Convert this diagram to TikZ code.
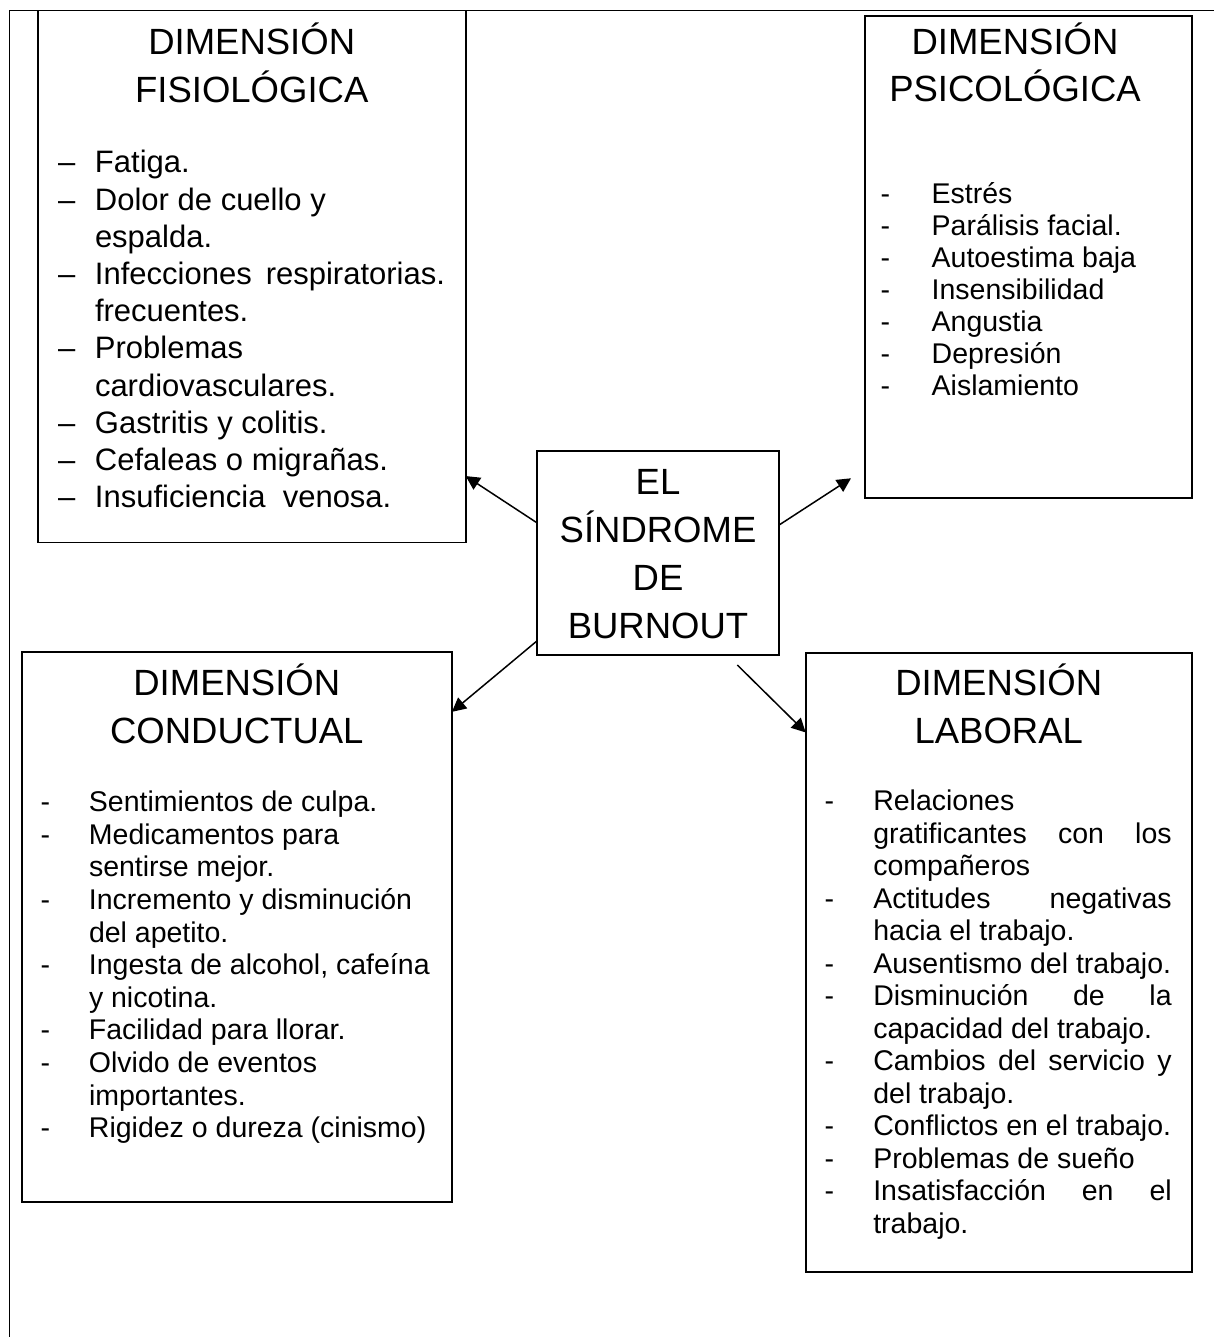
\documentclass[tikz,border=0pt]{standalone}
\usepackage{fontspec}
\setmainfont{Liberation Sans}
\usetikzlibrary{arrows.meta}
\newcommand\blines[2]{\vtop{\baselineskip=#1\relax\lineskiplimit=-\maxdimen\lineskip=0pt\relax #2}}
\newlength\indw
\newcommand\dashsym{-}
\newcommand\bitem[1]{\hbox{\hbox to\indw{\dashsym\hfil}#1}}
\newcommand\bcont[1]{\hbox{\hskip\indw #1}}
\newcommand\tline[1]{\hbox to 380pt{\hss #1\hss}}
\begin{document}
\begin{tikzpicture}[x=1pt,y=-1pt,
  outerline/.style={line width=1.7pt},
  dimbox/.style={draw, line width=1.8pt, inner sep=0pt, outer sep=0pt},
  txt/.style={inner sep=0pt, outer sep=0pt},
  ttl/.style={txt, anchor=base, font=\fontsize{36.5}{48}\selectfont},
  body/.style={txt, anchor=base west, font=\fontsize{28.5}{32.5}\selectfont},
  arr/.style={line width=1.5pt, -{Triangle[length=14pt,width=14pt]}}]
\useasboundingbox (0,0) rectangle (1214,1337);
\draw[outerline] (9.5,1337) -- (9.5,10.5) -- (1214,10.5);
% boxes
\node[dimbox, minimum width=428pt, minimum height=532pt] (fisi) at (251.7,276.5) {};
\node[dimbox, minimum width=326.7pt, minimum height=482pt] (psi) at (1028.3,257) {};
\node[dimbox, minimum width=242pt, minimum height=204pt] (cen) at (658,553) {};
\node[dimbox, minimum width=430.3pt, minimum height=550pt] (cond) at (236.8,927) {};
\node[dimbox, minimum width=386pt, minimum height=619.6pt] (lab) at (998.7,962.5) {};
% titles
\node[ttl] (fisittl) at (251.7,55) {\blines{48pt}{\tline{DIMENSIÓN}\tline{FISIOLÓGICA}}};
\node[ttl] (psittl) at (1015,55) {\blines{46.5pt}{\tline{DIMENSIÓN}\tline{PSICOLÓGICA}}};
\node[ttl] (condttl) at (236.8,695) {\blines{48pt}{\tline{DIMENSIÓN}\tline{CONDUCTUAL}}};
\node[ttl] (labttl) at (998.7,695) {\blines{48pt}{\tline{DIMENSIÓN}\tline{LABORAL}}};
\node[ttl] (centxt) at (658,494) {\blines{48.3pt}{\tline{EL}\tline{SÍNDROME}\tline{DE}\tline{BURNOUT}}};
% lists
\node[body, font=\fontsize{31}{37.2}\selectfont] (fisitxt) at (58,173) {\setlength\indw{37pt}\renewcommand\dashsym{–}\blines{37.2pt}{%
\bitem{Fatiga.}
\bitem{Dolor de cuello y}
\bcont{espalda.}
\bitem{\hbox to 350pt{Infecciones\hfill respiratorias.}}
\bcont{frecuentes.}
\bitem{Problemas}
\bcont{cardiovasculares.}
\bitem{Gastritis y colitis.}
\bitem{Cefaleas o migrañas.}
\bitem{Insuficiencia\ \ venosa.}}};
\node[body] (psitxt) at (880.7,203.3) {\setlength\indw{51pt}\blines{32.1pt}{%
\bitem{Estrés}
\bitem{Parálisis facial.}
\bitem{Autoestima baja}
\bitem{Insensibilidad}
\bitem{Angustia}
\bitem{Depresión}
\bitem{Aislamiento}}};
\node[body] (condtxt) at (40.7,811.7) {\setlength\indw{48.3pt}\blines{32.6pt}{%
\bitem{Sentimientos de culpa.}
\bitem{Medicamentos para}
\bcont{sentirse mejor.}
\bitem{Incremento y disminución}
\bcont{del apetito.}
\bitem{Ingesta de alcohol, cafeína}
\bcont{y nicotina.}
\bitem{Facilidad para llorar.}
\bitem{Olvido de eventos}
\bcont{importantes.}
\bitem{Rigidez o dureza (cinismo)}}};
\node[body] (labtxt) at (824.7,810.7) {\setlength\indw{48.6pt}\blines{32.5pt}{%
\bitem{Relaciones}
\bcont{\hbox to 298.4pt{gratificantes\hfill con\hfill los}}
\bcont{compañeros}
\bitem{\hbox to 298.4pt{Actitudes\hfill negativas}}
\bcont{hacia el trabajo.}
\bitem{Ausentismo del trabajo.}
\bitem{\hbox to 298.4pt{Disminución\hfill de\hfill la}}
\bcont{capacidad del trabajo.}
\bitem{\hbox to 298.4pt{Cambios\hfill del\hfill servicio\hfill y}}
\bcont{del trabajo.}
\bitem{Conflictos en el trabajo.}
\bitem{Problemas de sueño}
\bitem{\hbox to 298.4pt{Insatisfacción\hfill en\hfill el}}
\bcont{trabajo.}}};
% arrows
\coordinate (psitip) at (851,478.3);
\coordinate (labstart) at (737.3,665);
\draw[arr] (cen.166.66) -- (fisi.-43.46);
\draw[arr] (cen.13.34) -- (psitip);
\draw[arr] (cen.216.24) -- (cond.45.24);
\draw[arr] (labstart) -- (lab.130.2);
\end{tikzpicture}
\end{document}
